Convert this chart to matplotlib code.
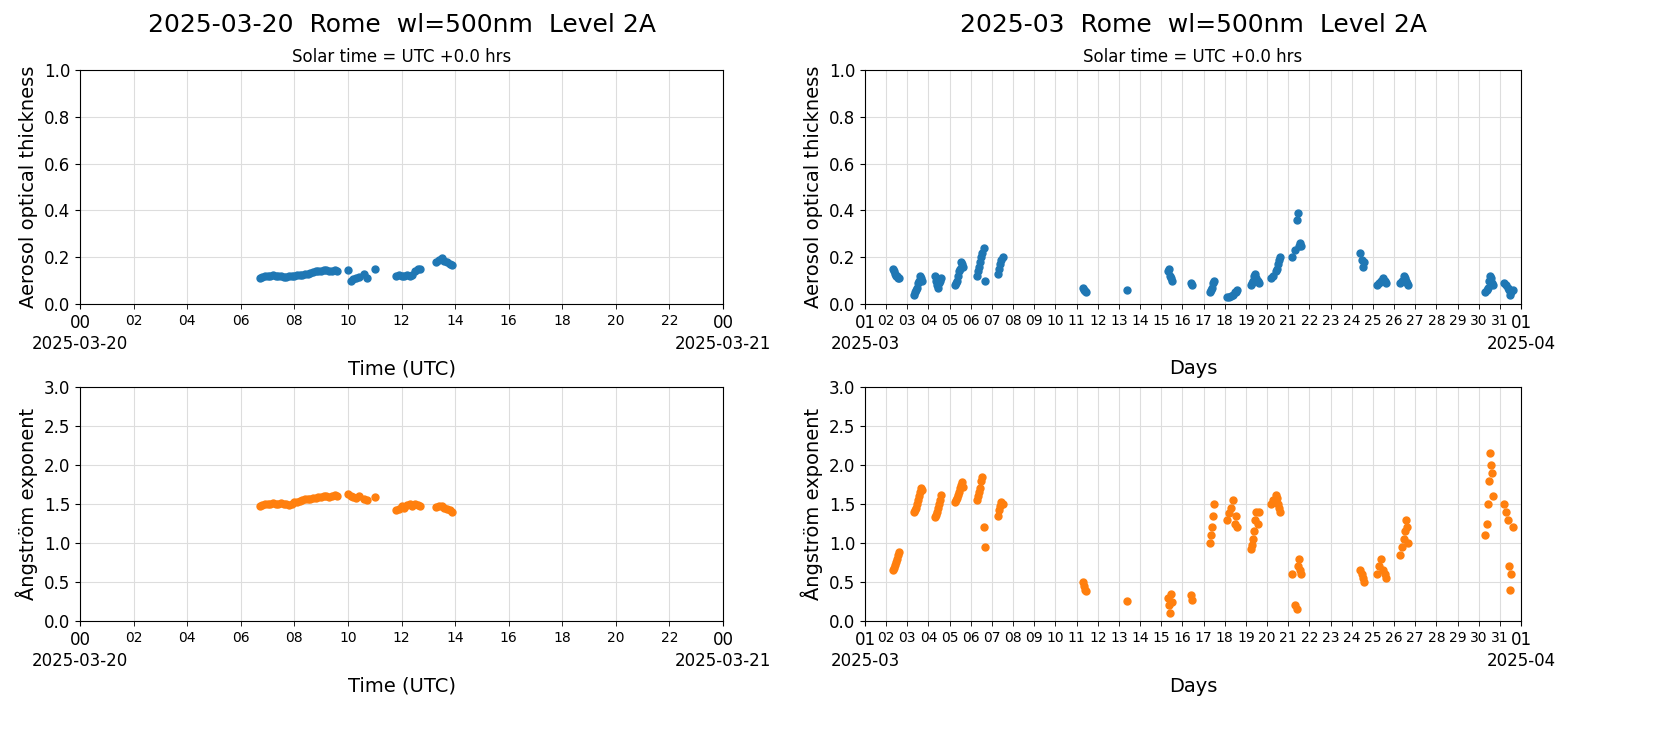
import matplotlib
matplotlib.use("Agg")
import matplotlib.pyplot as plt
import numpy as np

# ---- daily data (hours UTC, 2025-03-20) ----
day_t = [6.7,6.8,6.9,7.0,7.1,7.2,7.3,7.4,7.5,7.6,7.7,7.8,7.9,8.0,8.1,8.2,8.3,8.4,8.5,8.6,8.7,8.8,8.9,9.0,9.1,9.2,9.3,9.4,9.5,9.6,
         10.0,10.1,10.2,10.3,10.4,10.6,10.7,11.0,
         11.8,11.9,12.0,12.1,12.2,12.3,12.4,12.5,12.6,12.7,
         13.3,13.4,13.5,13.6,13.7,13.8,13.9]
day_aot = [0.11,0.115,0.12,0.12,0.12,0.125,0.12,0.12,0.118,0.115,0.115,0.118,0.12,0.12,0.122,0.125,0.125,0.128,0.13,0.132,0.135,0.14,0.14,0.142,0.145,0.145,0.14,0.14,0.145,0.14,
           0.145,0.10,0.105,0.11,0.115,0.13,0.11,0.15,
           0.12,0.125,0.12,0.12,0.125,0.12,0.125,0.14,0.15,0.15,
           0.18,0.19,0.195,0.185,0.18,0.17,0.165]
day_ae = [1.48,1.49,1.5,1.5,1.5,1.51,1.5,1.5,1.51,1.5,1.5,1.49,1.5,1.52,1.53,1.54,1.55,1.56,1.57,1.57,1.58,1.58,1.59,1.59,1.6,1.6,1.59,1.6,1.61,1.6,
          1.63,1.6,1.59,1.58,1.6,1.56,1.55,1.59,
          1.42,1.44,1.47,1.45,1.49,1.5,1.48,1.5,1.49,1.48,
          1.46,1.47,1.48,1.45,1.43,1.42,1.4]

# ---- monthly data (day of month, fractional) ----
mon_t = [2.30,2.35,2.40,2.45,2.50,2.55,2.60,
         3.30,3.35,3.40,3.45,3.50,3.55,3.60,3.65,3.70,
         4.30,4.35,4.40,4.45,4.50,4.55,4.60,
         5.25,5.30,5.35,5.40,5.45,5.50,5.55,5.60,5.65,
         6.30,6.35,6.40,6.45,6.50,6.55,6.60,6.65,
         7.30,7.35,7.40,7.45,7.50,
         11.30,11.35,11.40,11.45,
         13.40,
         15.30,15.35,15.40,15.45,15.50,
         16.40,16.45,
         17.30,17.35,17.40,17.45,17.50,
         18.10,18.20,18.30,18.40,18.50,18.55,18.60,
         19.25,19.30,19.35,19.40,19.45,19.50,19.55,19.60,
         20.20,20.30,20.40,20.45,20.50,20.55,20.60,
         21.20,21.30,21.40,21.45,21.50,21.55,21.60,
         24.40,24.50,24.55,24.60,
         25.20,25.30,25.40,25.50,25.55,25.60,
         26.30,26.40,26.45,26.50,26.55,26.60,26.65,
         30.30,30.40,30.45,30.50,30.55,30.60,30.65,30.70,
         31.20,31.30,31.40,31.45,31.50,31.55,31.60]
mon_aot = [0.15,0.14,0.13,0.12,0.12,0.11,0.11,
           0.04,0.05,0.06,0.07,0.09,0.10,0.12,0.11,0.10,
           0.12,0.10,0.08,0.07,0.09,0.10,0.11,
           0.08,0.09,0.10,0.12,0.14,0.15,0.18,0.17,0.16,
           0.12,0.14,0.16,0.18,0.20,0.22,0.24,0.10,
           0.13,0.15,0.17,0.19,0.20,
           0.07,0.06,0.055,0.05,
           0.06,
           0.14,0.15,0.12,0.11,0.10,
           0.09,0.08,
           0.05,0.06,0.07,0.09,0.10,
           0.03,0.03,0.035,0.04,0.05,0.05,0.06,
           0.08,0.09,0.10,0.12,0.13,0.11,0.10,0.09,
           0.11,0.12,0.14,0.15,0.17,0.19,0.20,
           0.20,0.23,0.36,0.39,0.25,0.26,0.25,
           0.22,0.19,0.16,0.18,
           0.08,0.09,0.10,0.11,0.10,0.09,
           0.09,0.10,0.12,0.11,0.10,0.09,0.08,
           0.05,0.06,0.07,0.10,0.12,0.11,0.09,0.08,
           0.09,0.08,0.07,0.06,0.04,0.05,0.06]
mon_ae = [0.65,0.68,0.72,0.76,0.80,0.84,0.88,
          1.40,1.42,1.45,1.50,1.55,1.60,1.65,1.70,1.68,
          1.33,1.36,1.40,1.45,1.50,1.55,1.62,
          1.52,1.55,1.58,1.62,1.66,1.70,1.74,1.78,1.72,
          1.55,1.60,1.65,1.70,1.80,1.84,1.20,0.95,
          1.35,1.42,1.48,1.52,1.50,
          0.50,0.45,0.40,0.38,
          0.26,
          0.30,0.20,0.10,0.35,0.25,
          0.33,0.27,
          1.00,1.10,1.20,1.35,1.50,
          1.30,1.38,1.45,1.55,1.25,1.35,1.20,
          0.92,0.98,1.05,1.15,1.30,1.40,1.25,1.40,
          1.50,1.55,1.62,1.58,1.50,1.45,1.40,
          0.60,0.20,0.15,0.70,0.80,0.65,0.60,
          0.65,0.60,0.55,0.50,
          0.60,0.70,0.80,0.65,0.60,0.55,
          0.85,0.95,1.05,1.15,1.30,1.20,1.00,
          1.10,1.25,1.50,1.80,2.15,2.00,1.90,1.60,
          1.50,1.40,1.30,0.70,0.40,0.60,1.20]

day_dates = ["2025-03-20", "2025-03-21"]
mon_dates = ["2025-03", "2025-04"]

blue = "#1f77b4"; orange = "#ff7f0e"

fig = plt.figure(figsize=(16.54, 7.37), dpi=100)
W, H = 1654, 737
def add(x0, y0, x1, y1):
    return fig.add_axes([x0/W, 1-y1/H, (x1-x0)/W, (y1-y0)/H])
a1 = add(80, 70, 723, 304); a2 = add(80, 387, 723, 621)
b1 = add(865, 70, 1521, 304); b2 = add(865, 387, 1521, 621)

def setup(ax, x, y, c, ylim, yl, xl, xlim, minor, minor_lab, dates):
    ax.plot(x, y, "o", color=c, ms=5)
    ax.set_xlim(*xlim); ax.set_ylim(*ylim)
    ax.set_ylabel(yl, fontsize=14)
    ax.set_xlabel(xl, fontsize=14, labelpad=20)
    ax.set_xticks(list(xlim))
    ax.set_xticklabels([minor_lab[0], minor_lab[0]], fontsize=12)
    ax.set_xticks(minor, minor=True)
    ax.set_xticklabels(minor_lab[1:], minor=True, fontsize=10)
    ax.tick_params(axis="x", which="minor", length=3.5)
    ax.tick_params(axis="y", labelsize=12)
    ax.grid(True, which="both", color="#dddddd", lw=0.8)
    ax.set_axisbelow(True)
    ax.set_yticks(np.linspace(ylim[0], ylim[1], 6 if ylim[1] == 1 else 7))
    for xv, d in zip(xlim, dates):
        ax.annotate(d, xy=(xv, 0), xycoords=("data", "axes fraction"),
                    xytext=(0, -22), textcoords="offset points",
                    ha="center", va="top", fontsize=12, annotation_clip=False)

hrs = list(range(2, 24, 2))
days = list(range(2, 32))
for ax, y, c, ylim, yl in [(a1, day_aot, blue, (0, 1), "Aerosol optical thickness"),
                           (a2, day_ae, orange, (0, 3), "Ångström exponent")]:
    setup(ax, day_t, y, c, ylim, yl, "Time (UTC)", (0, 24), hrs,
          ["00"] + ["%02d" % h for h in hrs], day_dates)
for ax, y, c, ylim, yl in [(b1, mon_aot, blue, (0, 1), "Aerosol optical thickness"),
                           (b2, mon_ae, orange, (0, 3), "Ångström exponent")]:
    setup(ax, mon_t, y, c, ylim, yl, "Days", (1, 32), days,
          ["01"] + ["%02d" % d for d in days], mon_dates)

a1.set_title("Solar time = UTC +0.0 hrs", fontsize=12)
b1.set_title("Solar time = UTC +0.0 hrs", fontsize=12)
fig.text((80+723)/2/W, 1-25/H, "2025-03-20  Rome  wl=500nm  Level 2A", ha="center", va="center", fontsize=18)
fig.text((865+1521)/2/W, 1-25/H, "2025-03  Rome  wl=500nm  Level 2A", ha="center", va="center", fontsize=18)

fig.savefig("out.png", dpi=100)
